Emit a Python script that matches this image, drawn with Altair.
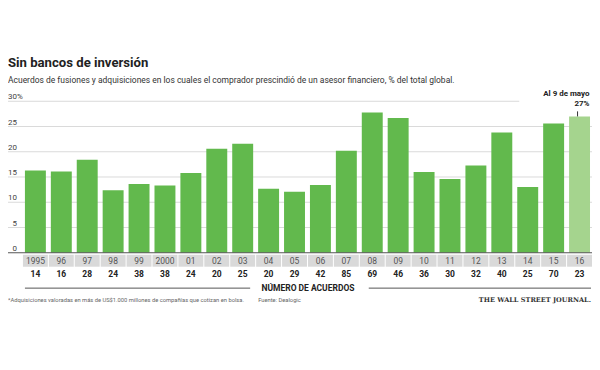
import altair as alt
import pandas as pd

# ---- data ----
years = ["1995", "96", "97", "98", "99", "2000", "01", "02", "03", "04", "05",
         "06", "07", "08", "09", "10", "11", "12", "13", "14", "15", "16"]
shares = [16.3, 16.1, 18.4, 12.4, 13.6, 13.3, 15.8, 20.6, 21.6, 12.7, 12.1,
          13.4, 20.2, 27.8, 26.7, 16.0, 14.6, 17.3, 23.8, 13.0, 25.6, 27.0]
deals = [14, 16, 28, 24, 38, 38, 24, 20, 25, 20, 29,
         42, 85, 69, 46, 36, 30, 32, 40, 25, 70, 23]
status = ["full"] * 21 + ["partial"]
y_ticks = [0, 5, 10, 15, 20, 25, 30]

title_text = "Sin bancos de inversión"
subtitle_text = ("Acuerdos de fusiones y adquisiciones en los cuales el comprador "
                 "prescindió de un asesor financiero, % del total global.")
axis_title = "NÚMERO DE ACUERDOS"
footnote = ("*Adquisiciones valoradas en más de US$1.000 millones de compañías "
            "que cotizan en bolsa.")
source = "Fuente: Dealogic"
brand = "THE WALL STREET JOURNAL."
ann_line1 = "Al 9 de mayo"
ann_line2 = "27%"

W, H = 586, 152
FONT = "Roboto"

df = pd.DataFrame({"year": years, "share": shares, "deals": deals, "status": status})
df["top"] = df["share"] + 1.0

x_scale = alt.Scale(domain=years, paddingInner=0.192, paddingOuter=0.365, align=0.895)
y_scale = alt.Scale(domain=[0, 30], nice=False, zero=True)
X = alt.X("year:N", scale=x_scale, axis=None, sort=years)


def txt(text, x, y, **kw):
    return alt.Chart(pd.DataFrame({"t": [text]})).mark_text(**kw).encode(
        x=alt.value(x), y=alt.value(y), text="t:N")


ticks_df = pd.DataFrame({"t": y_ticks, "label": [str(v) for v in y_ticks]})

grid = alt.Chart(ticks_df[(ticks_df.t > 0) & (ticks_df.t < 30)]).mark_rule(
    color="#dadada", strokeWidth=1).encode(
    y=alt.Y("t:Q", scale=y_scale, axis=None), x=alt.value(0), x2=alt.value(W))
grid30 = alt.Chart(ticks_df[ticks_df.t == 30]).mark_rule(
    color="#dadada", strokeWidth=1).encode(
    y=alt.Y("t:Q", scale=y_scale, axis=None), x=alt.value(0), x2=alt.value(513))
tick_labels = alt.Chart(ticks_df).mark_text(
    align="right", baseline="alphabetic", dy=-2, fontSize=8, color="#444", font=FONT).encode(
    y=alt.Y("t:Q", scale=y_scale, axis=None), x=alt.value(9), text="label:N")
pct = alt.Chart(ticks_df[ticks_df.t == 30]).mark_text(
    align="left", baseline="alphabetic", dy=-2, fontSize=8, color="#444", font=FONT).encode(
    y=alt.Y("t:Q", scale=y_scale, axis=None), x=alt.value(9), text=alt.value("%"))

bars = alt.Chart(df).mark_bar().encode(
    x=X,
    y=alt.Y("share:Q", scale=y_scale, axis=None),
    color=alt.Color("status:N", scale=alt.Scale(domain=["full", "partial"],
                                                range=["#62b94d", "#a5d48e"]), legend=None),
)
zero = alt.Chart(ticks_df[ticks_df.t == 0]).mark_rule(color="#555", strokeWidth=1).encode(
    y=alt.Y("t:Q", scale=y_scale, axis=None), x=alt.value(-3), x2=alt.value(W))

band = alt.Chart(df).mark_bar(color="#d9d9d9", width={"band": 1.19}).encode(
    x=X, y=alt.value(154), y2=alt.value(166))
year_text = alt.Chart(df).mark_text(fontSize=8.5, color="#555", font=FONT, baseline="middle").encode(
    x=X, y=alt.value(160.5), text="year:N")
deal_text = alt.Chart(df).mark_text(fontSize=8.5, fontWeight="bold", color="#222",
                                    font=FONT, baseline="middle").encode(
    x=X, y=alt.value(173.5), text="deals:Q")

line_l = alt.Chart(pd.DataFrame({"a": [0]})).mark_rule(color="#555").encode(
    x=alt.value(17), x2=alt.value(243), y=alt.value(187.5))
line_r = alt.Chart(pd.DataFrame({"a": [0]})).mark_rule(color="#555").encode(
    x=alt.value(362), x2=alt.value(585), y=alt.value(187.5))
axis_lbl = txt(axis_title, 301, 187.5, fontSize=8.5, fontWeight="bold", color="#222",
               font=FONT, align="center", baseline="middle")

foot = txt(footnote, 0, 199.5, fontSize=5.8, color="#666", font=FONT, align="left", baseline="middle")
src = txt(source, 251, 199.5, fontSize=5.8, color="#666", font=FONT, align="left", baseline="middle")
wsj = txt(brand, 585, 199.5, fontSize=6.6, fontWeight="bold", color="#333",
          font="DejaVu Serif", align="right", baseline="middle")

title = txt(title_text, 0, -38, fontSize=13.2, fontWeight="bold", color="#222", font=FONT,
            align="left", baseline="middle")
subtitle = txt(subtitle_text, 0, -21, fontSize=8.5, color="#333", font=FONT,
               align="left", baseline="middle")

last = df[df.status == "partial"]
ann1 = alt.Chart(last).mark_text(align="right", baseline="middle", dx=10, dy=-22, fontSize=8,
                                 fontWeight="bold", color="#222", font=FONT).encode(
    x=X, y=alt.Y("share:Q", scale=y_scale, axis=None), text=alt.value(ann_line1))
ann2 = alt.Chart(last).mark_text(align="right", baseline="middle", dx=10, dy=-12, fontSize=8,
                                 fontWeight="bold", color="#222", font=FONT).encode(
    x=X, y=alt.Y("share:Q", scale=y_scale, axis=None), text=alt.value(ann_line2))
ann_tick = alt.Chart(last).mark_rule(color="#333", xOffset=-2).encode(
    x=alt.X("year:N", scale=x_scale, axis=None, sort=years, bandPosition=0.5),
    y=alt.Y("share:Q", scale=y_scale, axis=None), y2="top:Q")

chart = alt.layer(
    grid, grid30, tick_labels, pct, bars, zero, band, year_text, deal_text,
    line_l, line_r, axis_lbl, foot, src, wsj, title, subtitle, ann1, ann2, ann_tick
).properties(
    width=W, height=H,
    autosize=alt.AutoSizeParams(type="none"),
    padding={"left": 0, "top": 93, "right": 0, "bottom": 100},
    background="white",
).configure_view(stroke=None)

chart.save("out.html", embed_options={"renderer": "svg", "actions": False})
